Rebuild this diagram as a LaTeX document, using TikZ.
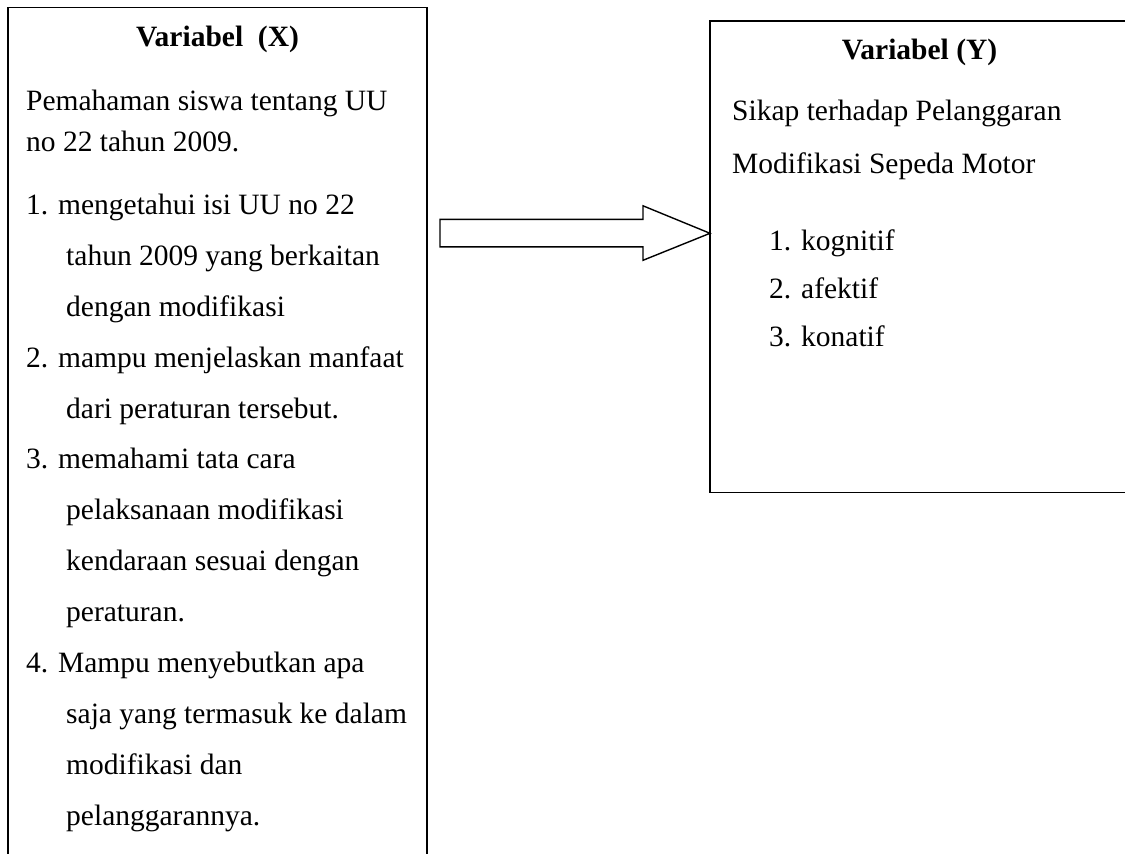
\documentclass[tikz,border=0pt]{standalone}
\usepackage{fontspec}
\setmainfont{Liberation Serif}
\begin{document}
\begin{tikzpicture}[x=1pt,y=-1pt,
  box/.style={draw, line width=1.6pt, inner sep=0pt, outer sep=0pt, anchor=north west},
  txt/.style={anchor=base west, inner sep=0pt, font=\fontsize{29.5}{35}\selectfont},
  ttl/.style={anchor=base, inner sep=0pt, font=\fontsize{29.5}{35}\selectfont\bfseries},
  blockarrow/.style={draw, line width=1.4pt, line join=miter}]
\useasboundingbox (0,0) rectangle (1125,854);
\clip (0,0) rectangle (1125,854);
% boxes
\node[box, minimum width=419pt, minimum height=900pt] (bx) at (8,7.5) {};
\node[box, minimum width=419pt, minimum height=471.5pt] (by) at (710,21) {};
% titles
\node[ttl] (tx) at (217.5,46) {Variabel\ \ (X)};
\node[ttl] (ty) at (919.5,59) {Variabel (Y)};
% left text
\node[txt] (x0) at (26,110) {Pemahaman siswa tentang UU};
\node[txt] (x1) at (26,151) {no 22 tahun 2009.};
\node[txt] (x2) at (26,214) {1. mengetahui isi UU no 22};
\node[txt] (x3) at (66,265) {tahun 2009 yang berkaitan};
\node[txt] (x4) at (66,316) {dengan modifikasi};
\node[txt] (x5) at (26,367) {2. mampu menjelaskan manfaat};
\node[txt] (x6) at (66,418) {dari peraturan tersebut.};
\node[txt] (x7) at (26,468) {3. memahami tata cara};
\node[txt] (x8) at (66,519) {pelaksanaan modifikasi};
\node[txt] (x9) at (66,570) {kendaraan sesuai dengan};
\node[txt] (x10) at (66,621) {peraturan.};
\node[txt] (x11) at (26,672) {4. Mampu menyebutkan apa};
\node[txt] (x12) at (66,723) {saja yang termasuk ke dalam};
\node[txt] (x13) at (66,774) {modifikasi dan};
\node[txt] (x14) at (66,825) {pelanggarannya.};
% right text
\node[txt] (y0) at (732,120) {Sikap terhadap Pelanggaran};
\node[txt] (y1) at (732,173) {Modifikasi Sepeda Motor};
\node[txt] (y2) at (769,250) {1. kognitif};
\node[txt] (y3) at (769,298) {2. afektif};
\node[txt] (y4) at (769,346) {3. konatif};
% block arrow
\coordinate (atip) at (by.north west |- 0,233.3);
\draw[blockarrow] (atip) -- ++(-67,-27.5) -- ++(0,13.5) -- ++(-203,0)
  -- ++(0,27.5) -- ++(203,0) -- ++(0,13.5) -- cycle;
\end{tikzpicture}
\end{document}
